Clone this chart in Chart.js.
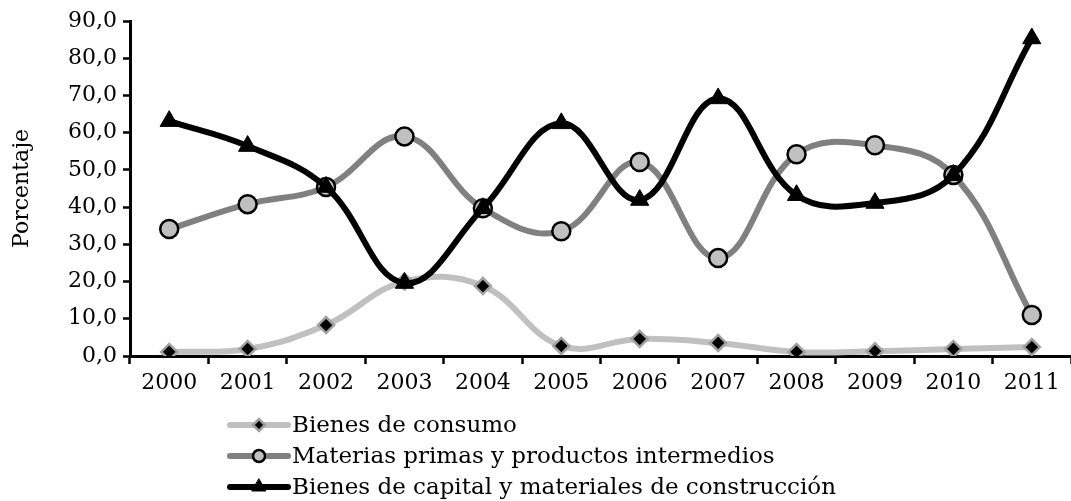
<!DOCTYPE html>
<html>
<head>
<meta charset="utf-8">
<script src="https://cdn.jsdelivr.net/npm/chart.js@4/dist/chart.umd.min.js"></script>
<style>
  html, body { margin: 0; padding: 0; background: #fff; overflow: hidden; }
  #wrap { width: 1071px; height: 501px; position: relative; overflow: hidden; }
</style>
</head>
<body>
<div id="wrap"><canvas id="grafico"></canvas></div>
<script>
// ─── Datos ────────────────────────────────────────
const anios = ['2000', '2001', '2002', '2003', '2004', '2005', '2006', '2007', '2008', '2009', '2010', '2011'];
const bienesConsumo = [1.1, 1.9, 8.3, 20.0, 18.8, 2.7, 4.6, 3.5, 1.1, 1.3, 1.9, 2.4];
const materiasPrimas = [34.1, 40.8, 45.4, 59.0, 39.7, 33.5, 52.1, 26.3, 54.2, 56.6, 48.6, 11.0];
const bienesCapital = [63.1, 56.4, 45.4, 19.6, 39.7, 62.5, 41.9, 69.2, 43.2, 41.1, 48.6, 85.3];
const etiquetasSeries = [
  'Bienes de consumo',
  'Materias primas y productos intermedios',
  'Bienes de capital y materiales de construcción'
];

// ─── Estilo ───────────────────────────────────────
const fuente = "'DejaVu Serif', serif";
const colorClaro = '#c0c0c0';
const colorMedio = '#808080';
const colorNegro = '#000000';

// ─── Leyenda dibujada bajo el gráfico ────────────
const leyendaAbajo = {
  id: 'leyendaAbajo',
  afterDraw(chart) {
    const c = chart.ctx;
    const x0 = 230, x1 = 288;
    chart.data.datasets.forEach((ds, i) => {
      const y = 425 + i * 31;
      c.save();
      c.strokeStyle = ds.borderColor;
      c.lineWidth = 6;
      c.lineCap = 'round';
      c.beginPath();
      c.moveTo(x0, y);
      c.lineTo(x1, y);
      c.stroke();
      c.fillStyle = ds.pointBackgroundColor;
      c.strokeStyle = ds.pointBorderColor;
      c.lineWidth = ds.pointBorderWidth;
      Chart.helpers.drawPoint(c, {
        pointStyle: ds.pointStyle,
        radius: ds.legendRadius,
        rotation: 0,
        borderWidth: ds.pointBorderWidth
      }, (x0 + x1) / 2, y);
      c.fillStyle = '#000';
      c.font = '23px ' + fuente;
      c.textAlign = 'left';
      c.textBaseline = 'middle';
      c.fillText(ds.label, x1 + 4, y + 1);
      c.restore();
    });
  }
};

// ─── Gráfico ──────────────────────────────────────
const ctx = document.getElementById('grafico').getContext('2d');
new Chart(ctx, {
  type: 'line',
  data: {
    labels: anios,
    datasets: [
      {
        label: etiquetasSeries[0],
        data: bienesConsumo,
        borderColor: colorClaro,
        borderWidth: 6,
        pointStyle: 'rectRot',
        pointRadius: 8,
        legendRadius: 6,
        pointBackgroundColor: '#000',
        pointBorderColor: '#a0a0a0',
        pointBorderWidth: 2.5,
        tension: 0.4,
        order: 3
      },
      {
        label: etiquetasSeries[1],
        data: materiasPrimas,
        borderColor: colorMedio,
        borderWidth: 6,
        pointStyle: 'circle',
        pointRadius: 9,
        legendRadius: 6,
        pointBackgroundColor: colorClaro,
        pointBorderColor: '#000',
        pointBorderWidth: 2.5,
        tension: 0.4,
        order: 2
      },
      {
        label: etiquetasSeries[2],
        data: bienesCapital,
        borderColor: colorNegro,
        borderWidth: 6,
        pointStyle: 'triangle',
        pointRadius: 10.5,
        legendRadius: 8,
        pointBackgroundColor: '#000',
        pointBorderColor: '#000',
        pointBorderWidth: 1,
        tension: 0.4,
        order: 1
      }
    ]
  },
  options: {
    responsive: true,
    maintainAspectRatio: false,
    animation: false,
    layout: { autoPadding: false, padding: { top: 21, right: 0, bottom: 0, left: 0 } },
    plugins: {
      legend: { display: false },
      tooltip: { enabled: false }
    },
    scales: {
      x: {
        offset: true,
        grid: {
          offset: true,
          drawOnChartArea: false,
          drawTicks: true,
          tickLength: 8,
          tickWidth: 2.5,
          tickColor: '#000'
        },
        border: { color: '#000', width: 3 },
        ticks: {
          color: '#000',
          padding: 6,
          maxRotation: 0,
          font: { family: fuente, size: 22 }
        },
        afterFit: (scale) => {
          scale.height = 145;
          scale.paddingRight = 0;
          scale.paddingLeft = 0;
        }
      },
      y: {
        min: 0,
        max: 90,
        grid: {
          drawOnChartArea: false,
          drawTicks: true,
          tickLength: 7,
          tickWidth: 2.5,
          tickColor: '#000'
        },
        border: { color: '#000', width: 3 },
        ticks: {
          stepSize: 10,
          color: '#000',
          padding: 6,
          font: { family: fuente, size: 22 },
          callback: (v) => v.toFixed(1).replace('.', ',')
        },
        title: {
          display: true,
          text: 'Porcentaje',
          color: '#000',
          font: { family: fuente, size: 22 },
          padding: { top: 9, bottom: 0 }
        },
        afterFit: (scale) => { scale.width = 130; }
      }
    }
  },
  plugins: [leyendaAbajo]
});
</script>
</body>
</html>
